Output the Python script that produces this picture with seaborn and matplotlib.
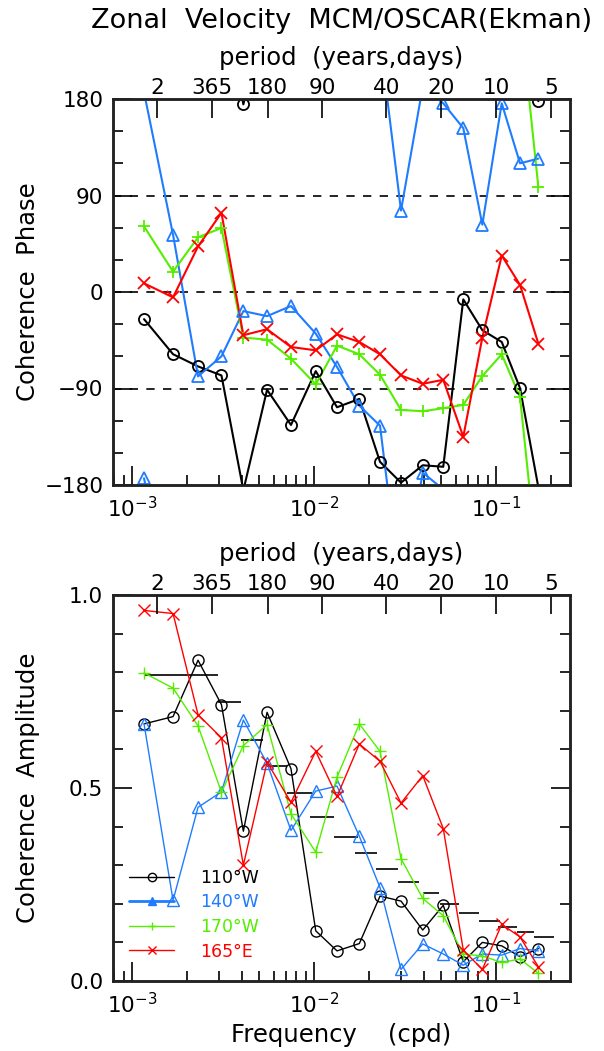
import numpy as np
import pandas as pd
import matplotlib
matplotlib.use("Agg")
import matplotlib.pyplot as plt
from matplotlib.lines import Line2D
from matplotlib.ticker import MultipleLocator, NullLocator, NullFormatter, LogLocator
import seaborn as sns

# ---------------- data ----------------
freq = [1.164e-3, 1.680e-3, 2.305e-3, 3.10e-3, 4.09e-3, 5.52e-3, 7.47e-3,
        1.022e-2, 1.338e-2, 1.774e-2, 2.305e-2, 3.006e-2, 3.957e-2, 5.13e-2,
        6.61e-2, 8.41e-2, 0.1075, 0.1355, 0.1708]

series_names = ["110°W", "140°W", "170°W", "165°E"]
series_colors = ["#000000", "#1f7cff", "#55ee00", "#ff0000"]
series_markers = ["o", "^", "+", "x"]

# coherence phase (degrees, unwrapped so that successive jumps are minimal)
phase_110W = [-25.3, -58, -69.4, -77.8, -185, -91.2, -124, -73.8, -107.5, -99.7,
              -158.4, -177.8, -161.6, -163, -6.9, -35.6, -46.6, -89.7, -182]
phase_140W = [186.3, 53.4, -78.7, -60, -17.8, -22.5, -13.1, -38.8, -70, -106,
              -124.7, -284, -168.5, -184, -207.2, -297.2, -184, -240, -235.6]
phase_170W = [61.2, 19, 51, 59.7, -42.5, -44.4, -62.2, -86.2, -50, -58.1,
              -77.2, -110, -111.2, -108.4, -105.3, -78.4, -58.1, -98.1, -261.8]
phase_165E = [8.1, -5, 42.5, 73.8, -40.3, -34.7, -51.3, -54.4, -39.5, -46.6,
              -58.1, -77.8, -85.6, -81.9, -135, -42.5, 34, 6.6, -48.1]

# coherence amplitude
amp_110W = [0.666, 0.685, 0.831, 0.716, 0.388, 0.696, 0.550, 0.130, 0.078, 0.097,
            0.220, 0.207, 0.132, 0.196, 0.050, 0.100, 0.091, 0.063, 0.084]
amp_140W = [0.666, 0.209, 0.450, 0.490, 0.676, 0.564, 0.390, 0.492, 0.505, 0.375,
            0.242, 0.030, 0.096, 0.070, 0.041, 0.070, 0.067, 0.084, 0.078]
amp_170W = [0.798, 0.759, 0.661, 0.489, 0.610, 0.664, 0.433, 0.334, 0.528, 0.666,
            0.595, 0.317, 0.214, 0.169, 0.070, 0.065, 0.048, 0.057, 0.020]
amp_165E = [0.960, 0.952, 0.690, 0.630, 0.300, 0.567, 0.463, 0.595, 0.478, 0.614,
            0.569, 0.461, 0.532, 0.395, 0.080, 0.030, 0.147, 0.114, 0.037]

# significance level segments (frequency band edges, level)
sig_lo = [1.178e-3, 2.968e-3, 3.97e-3, 5.52e-3, 7.105e-3, 9.51e-3, 1.288e-2, 1.68e-2,
          2.194e-2, 2.893e-2, 3.97e-2, 4.92e-2, 6.26e-2, 8.06e-2, 0.1026, 0.1304, 0.1617]
sig_hi = [2.968e-3, 3.97e-3, 5.245e-3, 7.105e-3, 9.75e-3, 1.288e-2, 1.745e-2, 2.22e-2,
          2.893e-2, 3.775e-2, 4.86e-2, 6.26e-2, 8.06e-2, 0.1052, 0.1304, 0.1617, 0.2083]
sig_level = [0.793, 0.724, 0.625, 0.558, 0.488, 0.425, 0.373, 0.331, 0.289, 0.257,
             0.227, 0.199, 0.176, 0.156, 0.140, 0.126, 0.113]

period_days = [730, 365, 180, 90, 40, 20, 10, 5]
period_labels = ["2", "365", "180", "90", "40", "20", "10", "5"]

phase_ticks = [-180, -90, 0, 90, 180]
phase_guides = [-90, 0, 90]
amp_ticks = [0.0, 0.5, 1.0]
amp_ticklabels = ["0.0", "0.5", "1.0"]
xlim = (7.86e-4, 0.255)

phases = [phase_110W, phase_140W, phase_170W, phase_165E]
amps = [amp_110W, amp_140W, amp_170W, amp_165E]

# ---------------- style ----------------
sns.set_theme(style="white")
plt.rcParams["font.family"] = ["DejaVu Sans"]
plt.rcParams["mathtext.fontset"] = "dejavusans"
plt.rcParams["text.color"] = "black"
plt.rcParams["axes.labelcolor"] = "black"
plt.rcParams["xtick.color"] = "black"
plt.rcParams["ytick.color"] = "black"

fig = plt.figure(figsize=(6.04, 10.51), dpi=100)
W, H = 604, 1051
ax_top = fig.add_axes([113 / W, 1 - 485 / H, 457 / W, 386 / H])
ax_bot = fig.add_axes([113 / W, 1 - 981 / H, 457 / W, 386 / H])

TICK_FS = 15.5
LAB_FS = 17.5


def style_axes(ax):
    ax.set_xscale("log")
    ax.set_xlim(*xlim)
    for sp in ax.spines.values():
        sp.set_linewidth(1.8)
        sp.set_color("#222222")
    ax.xaxis.set_major_locator(LogLocator(base=10, numticks=10))
    ax.xaxis.set_minor_locator(LogLocator(base=10, subs=np.arange(2, 10), numticks=20))
    ax.xaxis.set_minor_formatter(NullFormatter())
    ax.tick_params(which="both", direction="in", left=True, right=True,
                   bottom=True, top=False, colors="black", labelsize=TICK_FS,
                   width=1.2)
    ax.tick_params(which="major", length=14, pad=8)
    ax.tick_params(which="minor", length=7)
    ax.tick_params(axis="y", which="major", pad=7)
    ax.grid(False)
    ax2 = ax.twiny()
    ax2.set_xscale("log")
    ax2.set_xlim(*xlim)
    ax2.set_xticks([1.0 / p for p in period_days])
    ax2.set_xticklabels(period_labels)
    ax2.xaxis.set_minor_locator(NullLocator())
    ax2.tick_params(which="both", direction="in", top=True, bottom=False,
                    length=14, width=1.2, labelsize=TICK_FS, pad=1, colors="black")
    for sp in ax2.spines.values():
        sp.set_linewidth(1.8)
        sp.set_color("#222222")
    ax2.grid(False)
    ax2.set_xlabel("period  (years,days)", fontsize=LAB_FS)
    ax2.xaxis.set_label_coords(0.5, 1.088)
    return ax2


# ---------------- top: phase ----------------
ax2t = style_axes(ax_top)
ax_top.set_ylim(-180, 180)
ax_top.set_yticks(phase_ticks)
ax_top.yaxis.set_minor_locator(MultipleLocator(30))
for g in phase_guides:
    ax_top.axhline(g, color="black", lw=1.2, ls=(0, (5, 5)), zorder=1)

for vals, col, mk in zip(phases, series_colors, series_markers):
    v = np.array(vals, dtype=float)
    for off in (-360, 0, 360):
        df = pd.DataFrame({"f": freq, "p": v + off})
        sns.lineplot(data=df, x="f", y="p", ax=ax_top, color=col, lw=1.5,
                     sort=False, estimator=None, legend=False, zorder=3)
    wrapped = ((v + 180.0) % 360.0) - 180.0
    dfm = pd.DataFrame({"f": freq, "p": wrapped})
    filled = mk in ("o", "^")
    sns.lineplot(data=dfm, x="f", y="p", ax=ax_top, color=col, linestyle="none",
                 marker=mk, markersize=8,
                 markerfacecolor="none" if filled else col,
                 markeredgecolor=col, markeredgewidth=1.3,
                 sort=False, estimator=None, legend=False, zorder=4)

ax_top.set_xlabel("")
ax_top.set_ylabel("Coherence  Phase", fontsize=LAB_FS)
ax_top.yaxis.set_label_coords(-0.16, 0.5)
ax_top.set_ylim(-180, 180)

# ---------------- bottom: amplitude ----------------
ax2b = style_axes(ax_bot)
ax_bot.set_ylim(0, 1)
ax_bot.set_yticks(amp_ticks)
ax_bot.set_yticklabels(amp_ticklabels)
ax_bot.yaxis.set_minor_locator(MultipleLocator(0.1))

ax_bot.hlines(sig_level, sig_lo, sig_hi, color="black", lw=1.2, zorder=2)

for vals, col, mk in zip(amps, series_colors, series_markers):
    df = pd.DataFrame({"f": freq, "a": vals})
    filled = mk in ("o", "^")
    sns.lineplot(data=df, x="f", y="a", ax=ax_bot, color=col, lw=1.0,
                 marker=mk, markersize=8,
                 markerfacecolor="none" if filled else col,
                 markeredgecolor=col, markeredgewidth=1.0,
                 sort=False, estimator=None, legend=False, zorder=3)

ax_bot.set_xlabel("Frequency    (cpd)", fontsize=LAB_FS)
ax_bot.set_ylabel("Coherence  Amplitude", fontsize=LAB_FS)
ax_bot.yaxis.set_label_coords(-0.16, 0.5)
ax_bot.set_ylim(0, 1)

handles = []
for name, col, mk in zip(series_names, series_colors, series_markers):
    filled_face = col if mk == "^" else ("none" if mk == "o" else col)
    handles.append(Line2D([], [], color=col, lw=2.0 if mk == "^" else 1.0,
                          marker=mk, markersize=6, markerfacecolor=filled_face,
                          markeredgecolor=col, label=name))
ax_bot.legend(handles=handles, loc="center left", bbox_to_anchor=(0.035, 0.172),
              frameon=False, fontsize=12.5, handlelength=2.6, handletextpad=1.5,
              labelspacing=0.38, borderpad=0, borderaxespad=0, numpoints=1,
              labelcolor="linecolor")

fig.text(341.5 / W, 1 - 21 / H, "Zonal  Velocity  MCM/OSCAR(Ekman)",
         ha="center", va="center", fontsize=19.5)

fig.savefig("out.png", dpi=100)
